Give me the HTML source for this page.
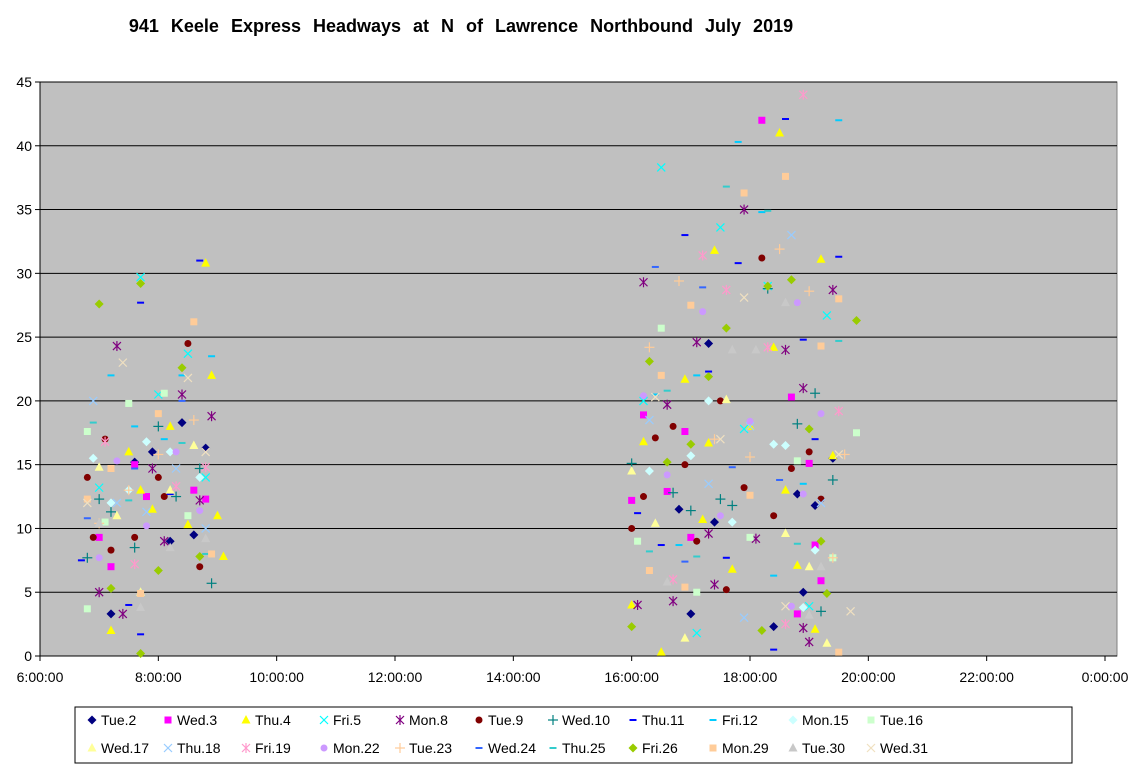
<!DOCTYPE html>
<html><head><meta charset="utf-8"><style>
body{margin:0;background:#fff;font-family:"Liberation Sans",Arial,sans-serif}
svg text{font-family:"Liberation Sans",Arial,sans-serif}
</style></head><body>
<svg id="chart" width="1133" height="770" xmlns="http://www.w3.org/2000/svg">
<rect width="1133" height="770" fill="#fff"/>
<text x="461" y="32" text-anchor="middle" font-size="18" font-weight="bold" word-spacing="7">941 Keele  Express  Headways  at N of Lawrence  Northbound  July 2019</text>
<g id="plot"></g>
<rect x="75" y="707" width="997" height="56" fill="#fff" stroke="#000" stroke-width="1"/>
<g id="legend"></g>
</svg>
<script>
const yTicks=[0,5,10,15,20,25,30,35,40,45];
const xTicks=[6,8,10,12,14,16,18,20,22,24];
const xTickLabels=["6:00:00","8:00:00","10:00:00","12:00:00","14:00:00","16:00:00","18:00:00","20:00:00","22:00:00","0:00:00"];
const seriesNames=["Tue.2","Wed.3","Thu.4","Fri.5","Mon.8","Tue.9","Wed.10","Thu.11","Fri.12","Mon.15","Tue.16","Wed.17","Thu.18","Fri.19","Mon.22","Tue.23","Wed.24","Thu.25","Fri.26","Mon.29","Tue.30","Wed.31"];
const tue2=[[7.2,3.3],[7.6,15.2],[7.9,16],[8.2,9],[8.4,18.3],[8.6,9.5],[8.8,16.3],[17.3,24.5],[17.4,10.5],[16.8,11.5],[17,3.3],[18.4,2.3],[18.9,5],[18.8,12.7],[19.1,11.8],[19.4,15.5]];
const wed3=[[7,9.3],[7.2,7],[7.6,15],[7.8,12.5],[8.6,13],[8.8,12.3],[16,12.2],[16.2,18.9],[16.6,12.9],[16.9,17.6],[17,9.3],[18.2,42],[18.7,20.3],[18.8,3.3],[19.0,15.1],[19.2,5.9],[19.1,8.7]];
const thu4=[[7.2,2],[7.5,16],[7.7,13],[7.9,11.5],[8.2,18],[8.5,10.3],[8.8,30.8],[8.9,22],[9.0,11],[9.1,7.8],[16,4],[16.2,16.8],[16.5,0.3],[16.9,21.7],[17.2,10.7],[17.3,16.7],[17.4,31.8],[17.7,6.8],[18,18],[18.5,41],[18.4,24.2],[18.6,13],[19.2,31.1],[19.4,15.7],[19.1,2.1],[18.8,7.1]];
const fri5=[[7,13.2],[7.7,29.7],[8.0,20.5],[8.5,23.7],[8.8,14],[16.5,38.3],[17.5,33.6],[17.9,17.8],[18.3,29],[19.3,26.7],[16.2,20],[19,3.9],[17.1,1.8]];
const mon8=[[7.0,5],[7.3,24.3],[7.4,3.3],[7.9,14.7],[8.1,9],[8.4,20.5],[8.7,12.2],[8.9,18.8],[16.1,4],[16.2,29.3],[16.6,19.7],[16.7,4.3],[17.1,24.6],[17.3,9.6],[17.4,5.6],[17.9,35],[18.1,9.2],[18.6,24],[18.9,21],[19,1.1],[19.4,28.7],[18.9,2.2]];
const tue9=[[6.8,14],[6.9,9.3],[7.1,17],[7.2,8.3],[7.6,9.3],[8.0,14],[8.1,12.5],[8.5,24.5],[8.7,7],[16.0,10],[16.2,12.5],[16.4,17.1],[16.7,18],[16.9,15],[17.1,9],[17.5,20],[17.6,5.2],[17.9,13.2],[18.2,31.2],[18.4,11],[18.7,14.7],[19.0,16],[19.2,12.3]];
const wed10=[[6.8,7.7],[7.0,12.3],[7.2,11.3],[7.6,8.5],[8.0,18],[8.3,12.5],[8.7,14.7],[8.9,5.7],[16.0,15.1],[16.7,12.8],[17.0,11.4],[17.5,12.3],[17.7,11.8],[18.3,28.8],[18.8,18.2],[19.1,20.6],[19.2,3.5],[19.4,13.8]];
const thu11=[[6.7,7.5],[7.5,4],[7.7,1.7],[7.7,27.7],[8.2,12.7],[8.7,31],[16.1,11.2],[16.5,8.7],[16.9,33],[17.3,22.3],[17.8,30.8],[18.4,0.5],[18.6,42.1],[18.9,24.8],[19.1,17],[19.5,31.3],[17.6,7.7]];
const fri12=[[7.2,22],[7.6,18],[8.1,17],[8.4,22],[8.9,23.5],[16.4,20.5],[17.1,22],[17.8,40.3],[18.2,34.8],[18.9,13.5],[19.5,42],[18.4,6.3],[16.8,8.7]];
const mon15=[[6.9,15.5],[7.2,12],[7.5,13],[7.8,16.8],[8.2,16],[8.7,14],[16.3,14.5],[17.0,15.7],[17.3,20],[17.7,10.5],[18.4,16.6],[18.6,16.5],[19.1,8.3],[18.9,3.8]];
const tue16=[[6.8,17.6],[7.1,10.5],[7.5,19.8],[8.1,20.6],[8.5,11],[16.1,9],[16.5,25.7],[17.1,5],[18.0,9.3],[18.8,15.3],[19.4,7.7],[19.8,17.5],[6.8,3.7]];
const wed17=[[7.0,14.8],[7.3,11],[7.7,5],[8.2,13],[8.6,16.5],[16.0,14.5],[16.9,1.4],[17.6,20.1],[18.6,9.6],[19.0,7],[19.3,1],[16.4,10.4]];
const thu18=[[6.9,20],[7.3,12],[7.8,11.3],[8.3,14.7],[8.8,10],[16.3,18.5],[17.3,13.5],[18.0,18],[18.7,33],[19.2,12],[17.9,3]];
const fri19=[[7.1,16.8],[7.6,7.2],[8.3,13.3],[8.8,14.8],[16.7,6],[17.2,31.4],[17.6,28.7],[18.3,24.2],[18.9,44],[19.5,19.2],[18.6,2.5]];
const mon22=[[7.0,7.7],[7.3,15.3],[7.8,10.2],[8.3,16],[8.7,11.4],[16.2,20.4],[16.6,14.2],[17.2,27],[17.5,11],[18.0,18.4],[18.8,27.7],[19.2,19],[18.9,12.7],[18.7,3.9]];
const tue23=[[7.0,10.4],[7.5,13],[8.0,15.8],[8.6,18.5],[16.3,24.2],[16.8,29.4],[17.4,17],[18.0,15.6],[18.5,31.9],[19.0,28.6],[19.6,15.8],[19.4,7.7]];
const wed24=[[6.8,10.8],[7.6,14.7],[8.4,20],[16.4,30.5],[17.2,28.9],[17.7,14.8],[18.5,13.8],[19.3,5],[16.9,7.4]];
const thu25=[[6.9,18.3],[7.5,12.2],[8.4,16.7],[8.8,8],[16.6,20.8],[17.1,7.8],[17.6,36.8],[18.3,34.9],[18.8,8.8],[19.5,24.7],[16.3,8.2]];
const fri26=[[7.0,27.6],[7.2,5.3],[7.7,29.2],[7.7,0.2],[8.0,6.7],[8.4,22.6],[8.7,7.8],[16.0,2.3],[16.3,23.1],[16.6,15.2],[17.0,16.6],[17.3,21.9],[17.6,25.7],[18.2,2],[18.3,29],[18.7,29.5],[19.0,17.8],[19.3,4.9],[19.8,26.3],[19.2,9]];
const mon29=[[6.8,12.3],[7.2,14.7],[7.7,4.9],[8.0,19],[8.6,26.2],[8.9,8],[16.3,6.7],[16.5,22],[17.0,27.5],[17.9,36.3],[18.0,12.6],[18.6,37.6],[19.2,24.3],[19.5,28],[19.5,0.3],[16.9,5.4]];
const tue30=[[7.0,10.4],[7.7,3.8],[8.2,8.5],[8.8,9.2],[16.6,5.8],[17.7,24],[18.1,24],[18.6,27.7],[19.2,7],[19.0,3.2]];
const wed31=[[6.8,12],[7.4,23],[8.5,21.8],[8.8,16],[16.4,20.3],[17.5,17],[17.9,28.1],[18.6,3.9],[19.7,3.5],[19.5,15.8]];
const seriesData=[tue2,wed3,thu4,fri5,mon8,tue9,wed10,thu11,fri12,mon15,tue16,wed17,thu18,fri19,mon22,tue23,wed24,thu25,fri26,mon29,tue30,wed31];
const styles=[["diamond","#000080"],["square","#ff00ff"],["triangle","#ffff00"],["x","#00ffff"],["star","#800080"],["circle","#800000"],["plus","#008080"],["dash","#0000ff"],["dash","#00ccff"],["diamond","#ccffff"],["square","#ccffcc"],["triangle","#ffff99"],["x","#99ccff"],["star","#ff99cc"],["circle","#cc99ff"],["plus","#ffcc99"],["dash","#3366ff"],["dash","#33cccc"],["diamond","#99cc00"],["square","#ffcc99"],["triangle","#c8c8c8"],["x","#f0e0c0"]];
const L=40,R=1117,T=82,B=656,XR=1105;
const xs=t=>L+(t-6)/18*(XR-L);
const ys=v=>B-v/45*(B-T);
const NS="http://www.w3.org/2000/svg";
function mk(tag,attrs,parent){const e=document.createElementNS(NS,tag);for(const k in attrs)e.setAttribute(k,attrs[k]);parent.appendChild(e);return e;}
function marker(type,color,x,y,parent){
  const g=mk("g",{},parent);
  if(type==="diamond")mk("polygon",{points:`${x},${y-4.5} ${x+4.5},${y} ${x},${y+4.5} ${x-4.5},${y}`,fill:color},g);
  else if(type==="square")mk("rect",{x:x-3.5,y:y-3.5,width:7,height:7,fill:color},g);
  else if(type==="triangle")mk("polygon",{points:`${x},${y-5} ${x+4.5},${y+3.5} ${x-4.5},${y+3.5}`,fill:color},g);
  else if(type==="circle")mk("circle",{cx:x,cy:y,r:3.5,fill:color},g);
  else if(type==="dash")mk("line",{x1:x-3.5,y1:y,x2:x+3.5,y2:y,stroke:color,"stroke-width":2},g);
  else if(type==="x"||type==="star"||type==="plus"){
    if(type!=="plus"){mk("line",{x1:x-4,y1:y-4,x2:x+4,y2:y+4,stroke:color,"stroke-width":1.2},g);mk("line",{x1:x-4,y1:y+4,x2:x+4,y2:y-4,stroke:color,"stroke-width":1.2},g);}
    if(type!=="x"){mk("line",{x1:x,y1:y-5,x2:x,y2:y+5,stroke:color,"stroke-width":1.2},g);}
    if(type==="plus"){mk("line",{x1:x-5,y1:y,x2:x+5,y2:y,stroke:color,"stroke-width":1.2},g);}
  }
  return g;
}
const plot=document.getElementById("plot");
const bg=mk("rect",{x:L,y:T,width:R-L,height:B-T,fill:"#c0c0c0",stroke:"#808080"},plot);


yTicks.forEach(v=>{
  if(v>0){const gl=mk("line",{x1:L,x2:R,y1:ys(v),y2:ys(v),stroke:"#000","stroke-width":1},plot);
  
  }
  mk("line",{x1:L-5,x2:L,y1:ys(v),y2:ys(v),stroke:"#000"},plot);
  const t=mk("text",{x:L-8,y:ys(v)+5,"text-anchor":"end","font-size":14},plot);t.textContent=v;
  
  
});
mk("line",{x1:L,x2:L,y1:T,y2:B,stroke:"#000"},plot);
mk("line",{x1:L,x2:R,y1:B,y2:B,stroke:"#000"},plot);
xTicks.forEach((h,i)=>{
  mk("line",{x1:xs(h),x2:xs(h),y1:B,y2:B+5,stroke:"#000"},plot);
  const t=mk("text",{x:xs(h),y:B+26,"text-anchor":"middle","font-size":14},plot);t.textContent=xTickLabels[i];
  
  
});
seriesData.forEach((arr,si)=>{
  const g=mk("g",{},plot);
  
  
  arr.forEach(p=>{
    const m=marker(styles[si][0],styles[si][1],xs(p[0]),ys(p[1]),g);
    
    
  });
});
const leg=document.getElementById("legend");
const row1X=[92,168,246,324,400,479,553,633,713,793,871];
seriesNames.forEach((n,i)=>{
  const r=Math.floor(i/11),c=i%11;
  const x=row1X[c],y=r?748:720;
  const g=mk("g",{},leg);
  
  
  marker(styles[i][0],styles[i][1],x,y,g);
  const t=mk("text",{x:x+9,y:y+5,"font-size":14},g);t.textContent=n;
});
</script>
</body></html>
